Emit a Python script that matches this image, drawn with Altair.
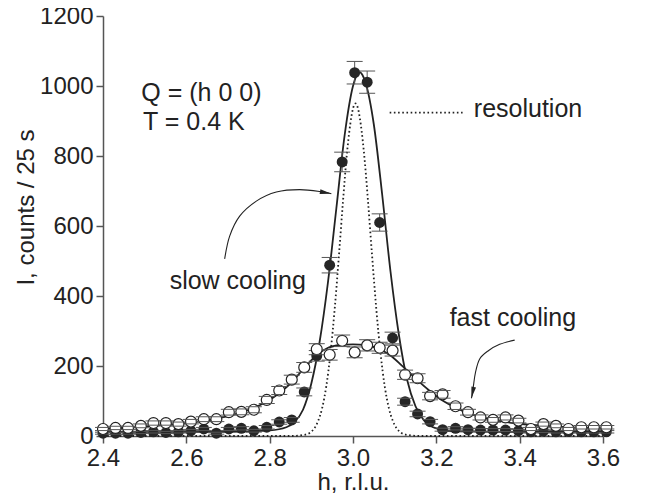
import altair as alt
import pandas as pd

FONT = "Liberation Sans"

# measured points (h in r.l.u.)
h = [2.400, 2.430, 2.460, 2.491, 2.521, 2.551, 2.581, 2.611, 2.642, 2.672,
     2.702, 2.732, 2.762, 2.793, 2.823, 2.853, 2.883, 2.913, 2.944, 2.974,
     3.004, 3.034, 3.064, 3.095, 3.125, 3.155, 3.185, 3.215, 3.246, 3.276,
     3.306, 3.336, 3.366, 3.397, 3.427, 3.457, 3.487, 3.517, 3.548, 3.578, 3.608]
slow = [8, 8, 8, 10, 12, 10, 12, 15, 20, 8,
        20, 22, 15, 25, 40, 46, 126, 229, 488, 783,
        1038, 1011, 610, 280, 98, 63, 41, 18, 22, 18,
        17, 17, 17, 15, 12, 14, 12, 13, 12, 12, 12]
fast = [20, 23, 23, 29, 37, 37, 34, 41, 48, 48,
        68, 69, 75, 103, 130, 161, 196, 248, 232, 272,
        239, 259, 252, 244, 175, 165, 114, 119, 85, 68,
        53, 46, 53, 44, 20, 34, 29, 20, 25, 25, 25]

# fitted curves
slow_fit_h = [2.40, 2.70, 2.80, 2.84, 2.86, 2.88, 2.90, 2.92, 2.94, 2.96, 2.98,
              3.00, 3.015, 3.03, 3.05, 3.07, 3.09, 3.11, 3.13, 3.15, 3.17, 3.20,
              3.25, 3.40, 3.60]
slow_fit_I = [12, 12, 16, 25, 40, 75, 150, 270, 440, 650, 860,
              1000, 1040, 1010, 890, 690, 470, 290, 160, 85, 45, 22,
              13, 12, 12]
fast_fit_h = [2.40, 2.50, 2.60, 2.65, 2.70, 2.75, 2.80, 2.85, 2.88, 2.91, 2.94,
              2.97, 3.00, 3.03, 3.06, 3.09, 3.12, 3.15, 3.18, 3.21, 3.24, 3.27,
              3.30, 3.35, 3.40, 3.50, 3.60]
fast_fit_I = [20, 27, 37, 45, 57, 75, 103, 150, 190, 228, 252,
              260, 262, 260, 250, 230, 198, 165, 133, 105, 85, 68,
              56, 43, 35, 26, 21]
res_h = [2.40, 2.85, 2.886, 2.906, 2.916, 2.926, 2.936, 2.946, 2.956, 2.966,
         2.976, 2.986, 3.006, 3.026, 3.036, 3.046, 3.056, 3.066, 3.076, 3.086,
         3.096, 3.106, 3.126, 3.16, 3.60]
res_I = [0, 0, 4, 20, 42, 80, 143, 237, 362, 512,
         671, 814, 950, 814, 671, 512, 362, 237, 143, 80,
         42, 20, 4, 0, 0]

# annotations
labels = ["Q = (h 0 0)", "T = 0.4 K", "slow cooling", "fast cooling", "resolution"]
label_h = [2.492, 2.496, 2.56, 3.232, 3.29]
label_I = [958, 875, 421, 314, 912]
legend_h = [3.088, 3.263]
legend_I = [924, 924]
arrow_slow_h = [2.692, 2.704, 2.728, 2.768, 2.816, 2.872, 2.928, 2.948]
arrow_slow_I = [506, 571, 628, 671, 697, 704, 697, 692]
arrow_fast_h = [3.388, 3.352, 3.324, 3.304, 3.294, 3.289, 3.286, 3.284]
arrow_fast_I = [274, 262, 243, 220, 182, 143, 117, 108]
head_h = [2.948, 3.284]
head_I = [692, 108]
head_angle = [101, 192]

xticks = [2.4, 2.6, 2.8, 3.0, 3.2, 3.4, 3.6]
yticks = [0, 200, 400, 600, 800, 1000, 1200]

pts = pd.DataFrame({"h": h + h, "I": slow + fast,
                    "set": ["slow"] * len(h) + ["fast"] * len(h)})
slow_pts = pts[pts.set == "slow"]
fast_pts = pts[pts.set == "fast"]

xs = alt.Scale(domain=[2.4, 3.6], nice=False, zero=False, padding=0)
ys = alt.Scale(domain=[0, 1200], nice=False, padding=0)
x_axis = alt.Axis(values=xticks, format=".1f", title="h, r.l.u.", labelFlush=False,
                  labelBaseline="alphabetic", labelPadding=22,
                  titleY=53, titleBaseline="alphabetic")
y_axis = alt.Axis(values=yticks, format="d", title="I, counts / 25 s", labelPadding=3,
                  labelFlush=False,
                  titleX=-77, titleY=191, titleBaseline="middle",
                  titleAlign="center", titleAngle=-90)
X = alt.X("h:Q", scale=xs, axis=x_axis)
Y = alt.Y("I:Q", scale=ys, axis=y_axis)


def curve(hv, iv, **kw):
    df = pd.DataFrame({"h": hv, "I": iv})
    return alt.Chart(df).mark_line(interpolate="monotone", color="#222222", **kw).encode(x=X, y=Y)


slow_fit = curve(slow_fit_h, slow_fit_I, strokeWidth=1.8)
fast_fit = curve(fast_fit_h, fast_fit_I, strokeWidth=1.8)
res_fit = curve(res_h, res_I, strokeWidth=1.8, strokeDash=[1.6, 2.6])
legend_line = curve(legend_h, legend_I, strokeWidth=1.8, strokeDash=[1.6, 2.6])


def arrow(hv, iv):
    df = pd.DataFrame({"h": hv, "I": iv, "o": list(range(len(hv)))})
    return alt.Chart(df).mark_line(interpolate="cardinal", color="#222222", strokeWidth=1.1).encode(
        x=X, y=Y, order="o:Q")


heads = alt.Chart(pd.DataFrame({"h": head_h, "I": head_I, "a": head_angle})).mark_point(
    shape="M0,0L0.45,2.2L-0.45,2.2Z", filled=True, color="#222222", size=110, opacity=1
).encode(x=X, y=Y, angle=alt.Angle("a:Q", scale=None))


def with_err(df):
    return alt.Chart(df).transform_calculate(
        lo="datum.I - sqrt(datum.I)", hi="datum.I + sqrt(datum.I)")


def err_rules(df):
    return with_err(df).mark_rule(color="#555555", strokeWidth=1).encode(
        x=X, y=alt.Y("lo:Q", scale=ys, axis=y_axis), y2="hi:Q")


def err_caps(df):
    lo = with_err(df).mark_rule(color="#555555", strokeWidth=1, xOffset=-8, x2Offset=8).encode(
        x=X, x2="h:Q", y=alt.Y("lo:Q", scale=ys, axis=y_axis))
    hi = with_err(df).mark_rule(color="#555555", strokeWidth=1, xOffset=-8, x2Offset=8).encode(
        x=X, x2="h:Q", y=alt.Y("hi:Q", scale=ys, axis=y_axis))
    return lo + hi


slow_marks = alt.Chart(slow_pts).mark_point(
    filled=True, color="#262626", size=120, opacity=1).encode(x=X, y=Y)
fast_marks = alt.Chart(fast_pts).mark_point(
    filled=True, fill="white", stroke="#222222", strokeWidth=1.2, size=120, opacity=1).encode(x=X, y=Y)

texts = alt.Chart(pd.DataFrame({"h": label_h, "I": label_I, "t": labels})).mark_text(
    align="left", baseline="alphabetic", fontSize=25, font=FONT, color="#222222"
).encode(x=X, y=Y, text="t:N")

chart = alt.layer(
    res_fit, slow_fit, fast_fit, legend_line,
    arrow(arrow_slow_h, arrow_slow_I), arrow(arrow_fast_h, arrow_fast_I), heads,
    err_rules(slow_pts), err_rules(fast_pts),
    slow_marks, err_caps(slow_pts), fast_marks, err_caps(fast_pts), texts
).properties(
    width=500, height=420,
    autosize=alt.AutoSizeParams(type="none"),
    padding={"left": 95, "top": 8, "right": 40, "bottom": 57},
).configure_view(stroke=None).configure_axis(
    grid=False, domainColor="#555555", domainWidth=1.5, tickColor="#555555", tickWidth=1.5,
    tickSize=7, labelFont=FONT, labelFontSize=24, labelColor="#222222",
    titleFont=FONT, titleFontSize=24, titleColor="#222222", titleFontWeight="normal",
)

chart.save("out.html", embed_options={"renderer": "svg", "actions": False})
